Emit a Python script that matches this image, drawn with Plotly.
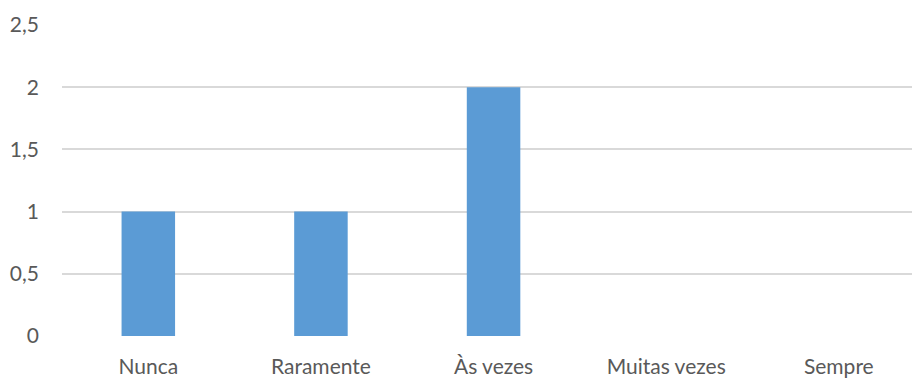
import plotly.graph_objects as go

categories = ["Nunca", "Raramente", "Às vezes", "Muitas vezes", "Sempre"]
values = [1, 1, 2, 0, 0]
y_tickvals = [0, 0.5, 1, 1.5, 2, 2.5]
y_ticktext = ["0", "0,5", "1", "1,5", "2", "2,5"]

fig = go.Figure(go.Bar(
    x=list(range(len(categories))), y=values,
    marker=dict(color="#5b9bd5", line=dict(width=0)),
    width=0.31,
))

fig.update_layout(
    width=912, height=378,
    margin=dict(l=62, r=0, t=25, b=42),
    plot_bgcolor="white", paper_bgcolor="white",
    font=dict(family="Lato, 'Open Sans', sans-serif", size=21, color="#595959"),
    showlegend=False,
    xaxis=dict(
        range=[-0.5, 4.424],
        tickvals=list(range(len(categories))), ticktext=categories,
        showgrid=False, zeroline=False, showline=False,
        ticks="", ticklabelstandoff=16, automargin=False,
    ),
    yaxis=dict(
        range=[0, 2.5],
        tickvals=y_tickvals, ticktext=y_ticktext,
        showgrid=True, gridcolor="#d9d9d9", gridwidth=1.5,
        zeroline=False, showline=False, ticks="",
        ticklabelstandoff=22, automargin=False,
    ),
)

fig.write_html("out.html")
